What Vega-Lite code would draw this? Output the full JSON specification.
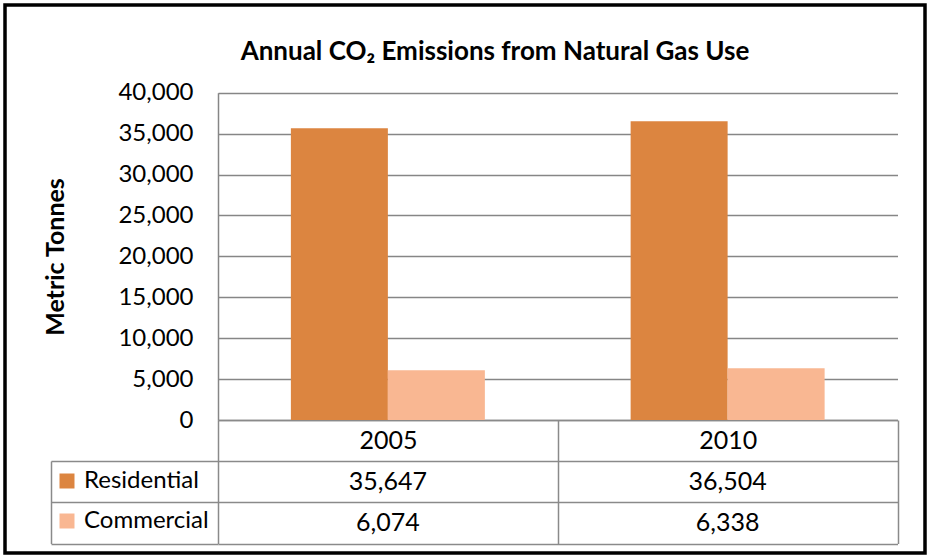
{
  "$schema": "https://vega.github.io/schema/vega-lite/v6.json",
  "width": 920,
  "height": 548,
  "autosize": {"type": "none"},
  "padding": {"left": 5, "top": 5, "right": 2, "bottom": 4},
  "background": "white",
  "title": {
    "text": "Annual CO₂ Emissions from Natural Gas Use",
    "frame": "group",
    "anchor": "middle",
    "dx": 30,
    "offset": -81,
    "baseline": "alphabetic",
    "font": "Lato",
    "fontSize": 26,
    "fontWeight": "bold",
    "color": "black"
  },
  "data": {
    "values": [
      {"year": "2005", "series": "Residential", "value": 35647},
      {"year": "2005", "series": "Commercial", "value": 6074},
      {"year": "2010", "series": "Residential", "value": 36504},
      {"year": "2010", "series": "Commercial", "value": 6338}
    ]
  },
  "layer": [
    {
      "mark": {"type": "bar"},
      "encoding": {
        "x": {
          "field": "year",
          "type": "nominal",
          "scale": {"range": [213, 892.5], "paddingInner": 0.429, "paddingOuter": 0.2145},
          "axis": null
        },
        "xOffset": {
          "field": "series",
          "type": "nominal",
          "scale": {"domain": ["Residential", "Commercial"]}
        },
        "y": {
          "field": "value",
          "type": "quantitative",
          "scale": {"domain": [0, 40000], "range": [415, 87.7], "nice": false, "zero": true},
          "axis": {
            "orient": "left",
            "offset": -213,
            "values": [0, 5000, 10000, 15000, 20000, 25000, 30000, 35000, 40000],
            "labelExpr": "format(datum.value, ',')",
            "grid": true,
            "gridColor": "#868686",
            "gridWidth": 1.5,
            "domain": true,
            "domainColor": "#868686",
            "domainWidth": 1.5,
            "ticks": false,
            "labelPadding": 25,
            "labelFont": "Lato",
            "labelFontSize": 24,
            "labelColor": "black",
            "title": "Metric Tonnes",
            "titleFont": "Lato",
            "titleFontSize": 25,
            "titleFontWeight": "bold",
            "titleColor": "black",
            "titleX": -163,
            "titleY": 251.5,
            "titleAngle": -90,
            "titleAlign": "center",
            "titleBaseline": "middle"
          }
        },
        "color": {
          "field": "series",
          "type": "nominal",
          "scale": {"domain": ["Residential", "Commercial"], "range": ["#DC8540", "#F9B792"]},
          "legend": {
            "orient": "none",
            "legendX": 50,
            "legendY": 464,
            "title": null,
            "padding": 0,
            "symbolType": "square",
            "symbolSize": 225,
            "symbolStrokeWidth": 0,
            "symbolOpacity": 1,
            "labelFont": "Lato",
            "labelFontSize": 24,
            "labelColor": "black",
            "labelOffset": 5,
            "rowPadding": 16
          }
        }
      }
    },
    {
      "mark": {"type": "text", "font": "Lato", "fontSize": 25, "color": "black", "baseline": "middle", "align": "center"},
      "encoding": {
        "x": {
          "field": "year",
          "type": "nominal",
          "scale": {"range": [213, 892.5], "paddingInner": 0, "paddingOuter": 0},
          "axis": {
            "orient": "bottom",
            "offset": -133,
            "title": null,
            "labelAngle": 0,
            "tickBand": "extent",
            "tickSize": 123.5,
            "tickColor": "#8a8a8a",
            "tickWidth": 1.5,
            "domainColor": "#8a8a8a",
            "domainWidth": 1.5,
            "labelPadding": -103,
            "labelBaseline": "middle",
            "labelFont": "Lato",
            "labelFontSize": 25,
            "labelColor": "black",
            "grid": false
          }
        },
        "y": {
          "field": "series",
          "type": "nominal",
          "scale": {"domain": ["Residential", "Commercial"], "range": [456, 538.5], "paddingInner": 0, "paddingOuter": 0},
          "axis": {
            "orient": "left",
            "offset": -46,
            "title": null,
            "labels": false,
            "tickBand": "extent",
            "tickSize": -167,
            "tickColor": "#8a8a8a",
            "tickWidth": 1.5,
            "domainColor": "#8a8a8a",
            "domainWidth": 1.5,
            "grid": true,
            "gridColor": "#8a8a8a",
            "gridWidth": 1.5
          }
        },
        "text": {"field": "value", "type": "quantitative", "format": ","}
      }
    }
  ],
  "resolve": {
    "scale": {"x": "independent", "y": "independent"},
    "axis": {"x": "independent", "y": "independent"}
  },
  "config": {
    "view": {"stroke": "black", "strokeWidth": 3.5},
    "font": "Lato"
  }
}
